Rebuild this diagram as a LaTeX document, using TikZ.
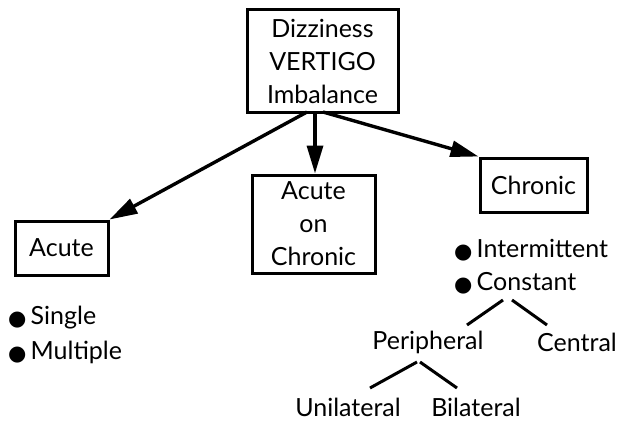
\documentclass[tikz,border=0pt]{standalone}
\usepackage{fontspec}
\setmainfont{Lato}
\newfontfamily\symf{DejaVu Sans}
\usetikzlibrary{arrows.meta}
\newcommand{\bul}{\raisebox{-1pt}{\symf\fontsize{21}{21}\selectfont ●}}
\begin{document}
\begin{tikzpicture}[x=1pt,y=-1pt,
  box/.style={draw,line width=3pt,align=center,inner sep=0pt,font=\fontsize{25}{33}\selectfont},
  lbl/.style={inner sep=0pt,font=\fontsize{25}{28}\selectfont},
  arr/.style={line width=3.4pt,-{Triangle[length=28pt,width=16pt]}},
  ln/.style={line width=3pt}]
\useasboundingbox (0,0) rectangle (618,428);
\node[box,minimum width=151pt,minimum height=102pt] (top) at (322.5,61) {Dizziness\\VERTIGO\\Imbalance};
\node[box,minimum width=93pt,minimum height=54pt] (acute) at (61.5,248) {Acute};
\node[box,minimum width=123pt,minimum height=98pt] (aoc) at (313.5,224) {Acute\\on\\Chronic};
\node[box,minimum width=107pt,minimum height=54pt] (chr) at (533.5,185) {Chronic};
\coordinate (s1) at (307,112);
\coordinate (s2) at (315,112);
\coordinate (s3) at (323,112);
\draw[arr] (s1) -- (acute.north east);
\draw[arr] (s2) -- (aoc.north -| s2);
\draw[arr] (s3) -- (chr.north west);
\node[lbl,anchor=west] (single) at (8,318) {\bul\,Single};
\node[lbl,anchor=west] (multi) at (8,352) {\bul\,Multiple};
\node[lbl,anchor=west] (inter) at (454,250) {\bul\,Intermittent};
\node[lbl,anchor=west] (const) at (454,283) {\bul\,Constant};
\node[lbl] (peri) at (428,342) {Peripheral};
\node[lbl] (cent) at (577,342) {Central};
\node[lbl] (uni) at (348,407) {Unilateral};
\node[lbl] (bi) at (476,407) {Bilateral};
\coordinate (c1) at (503,300);
\coordinate (c2) at (512,300);
\coordinate (p1) at (417,362);
\coordinate (p2) at (420,362);
\draw[ln] (c1) -- (467,325);
\draw[ln] (c2) -- (547,325);
\draw[ln] (p1) -- (370,388);
\draw[ln] (p2) -- (457,388);
\end{tikzpicture}
\end{document}
